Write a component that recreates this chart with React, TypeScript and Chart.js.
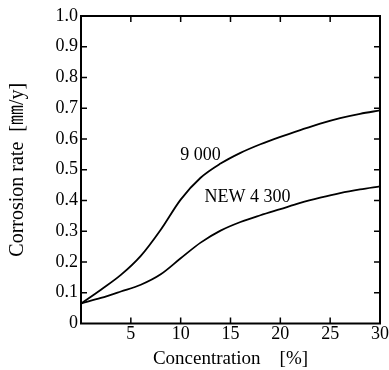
import React, { useEffect, useRef } from "react";
import { Chart, registerables } from "chart.js";

Chart.register(...registerables);

const concentration = [0, 2, 4, 6, 8, 10, 12, 14, 16, 18, 20, 22, 24, 26, 28, 30];
const series9000 = [0.065, 0.11, 0.158, 0.22, 0.305, 0.403, 0.474, 0.52, 0.555, 0.583, 0.607, 0.629, 0.65, 0.668, 0.682, 0.693];
const seriesNew4300 = [0.065, 0.083, 0.104, 0.126, 0.16, 0.212, 0.263, 0.302, 0.33, 0.352, 0.372, 0.392, 0.409, 0.424, 0.436, 0.446];
const seriesLabels = ["9 000", "NEW 4 300"];
const labelAnchors = [
  { x: 12.0, y: 0.546 },
  { x: 16.7, y: 0.41 },
];
const xTickValues = [5, 10, 15, 20, 25];
const yTickValues = [0.1, 0.2, 0.3, 0.4, 0.5, 0.6, 0.7, 0.8, 0.9];

const FONT = '"Liberation Serif", "Noto Sans CJK JP", serif';

const framePlugin = {
  id: "frameTicks",
  afterDatasetsDraw(chart: any) {
    const { ctx, chartArea, scales } = chart;
    const { left, right, top, bottom } = chartArea;
    ctx.save();
    ctx.strokeStyle = "#000";
    ctx.lineWidth = 2;
    ctx.strokeRect(left, top, right - left, bottom - top);
    ctx.lineWidth = 1.5;
    const len = 6;
    ctx.beginPath();
    for (const v of xTickValues) {
      const px = scales.x.getPixelForValue(v);
      ctx.moveTo(px, bottom);
      ctx.lineTo(px, bottom - len);
      ctx.moveTo(px, top);
      ctx.lineTo(px, top + len);
    }
    for (const v of yTickValues) {
      const py = scales.y.getPixelForValue(v);
      ctx.moveTo(left, py);
      ctx.lineTo(left + len, py);
      ctx.moveTo(right, py);
      ctx.lineTo(right - len, py);
    }
    ctx.stroke();
    ctx.fillStyle = "#000";
    ctx.font = `18px ${FONT}`;
    ctx.textAlign = "center";
    ctx.textBaseline = "middle";
    seriesLabels.forEach((t, i) => {
      const a = labelAnchors[i];
      ctx.fillText(t, scales.x.getPixelForValue(a.x), scales.y.getPixelForValue(a.y));
    });
    ctx.restore();
  },
};

export default function App() {
  const ref = useRef<HTMLCanvasElement>(null);
  useEffect(() => {
    document.body.style.margin = "0";
    const tickFont = { family: FONT, size: 18 };
    const chart = new Chart(ref.current!, {
      type: "line",
      data: {
        datasets: [
          {
            label: seriesLabels[0],
            data: concentration.map((x, i) => ({ x, y: series9000[i] })),
            borderColor: "#000",
            borderWidth: 1.8,
            pointRadius: 0,
            cubicInterpolationMode: "monotone",
            fill: false,
          },
          {
            label: seriesLabels[1],
            data: concentration.map((x, i) => ({ x, y: seriesNew4300[i] })),
            borderColor: "#000",
            borderWidth: 1.8,
            pointRadius: 0,
            cubicInterpolationMode: "monotone",
            fill: false,
          },
        ],
      },
      options: {
        animation: false,
        responsive: false,
        events: [],
        layout: { padding: { top: 16, right: 8, left: 0, bottom: 0 } },
        plugins: { legend: { display: false }, tooltip: { enabled: false } },
        scales: {
          x: {
            type: "linear",
            min: 0,
            max: 30,
            ticks: {
              stepSize: 5,
              autoSkip: false,
              maxRotation: 0,
              color: "#000",
              font: tickFont,
              padding: 0,
              callback: (v: any) => (v === 0 ? "" : String(v)),
            },
            grid: { display: false, drawTicks: false },
            border: { display: false },
            title: {
              display: true,
              text: "Concentration\u3000[%]",
              color: "#000",
              font: { family: FONT, size: 19 },
              padding: { top: 2, bottom: 0 },
            },
            afterFit: (s: any) => {
              s.height = 46.5;
            },
          },
          y: {
            min: 0,
            max: 1,
            ticks: {
              stepSize: 0.1,
              autoSkip: false,
              color: "#000",
              font: tickFont,
              padding: 3,
              callback: (v: any) => (v === 0 ? "0" : Number(v).toFixed(1)),
            },
            grid: { display: false, drawTicks: false },
            border: { display: false },
            title: {
              display: true,
              text: "Corrosion rate  [\u339C/y]",
              color: "#000",
              font: { family: FONT, size: 20 },
              padding: { top: 6, bottom: 0 },
            },
            afterFit: (s: any) => {
              s.width = 81;
            },
          },
        },
      },
      plugins: [framePlugin],
    });
    return () => chart.destroy();
  }, []);
  return (
    <div style={{ width: 389, height: 370, background: "#fff" }}>
      <canvas ref={ref} width={389} height={370} style={{ display: "block" }} />
    </div>
  );
}
